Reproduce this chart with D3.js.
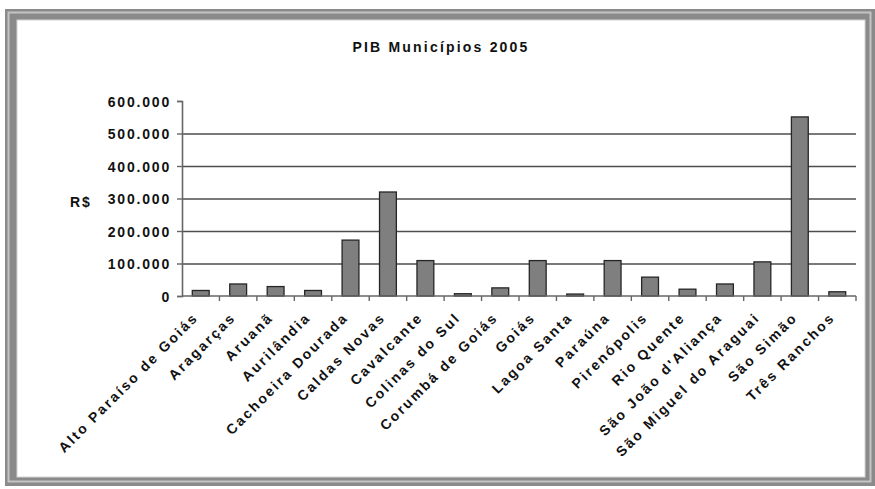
<!DOCTYPE html>
<html>
<head>
<meta charset="utf-8">
<script src="https://cdn.jsdelivr.net/npm/d3@7"></script>
<style>
  html, body { margin: 0; padding: 0; background: #fff; }
  svg text { font-family: "Liberation Sans", Arial, sans-serif; font-weight: bold; fill: #111; }
</style>
</head>
<body>
<svg id="chart" width="875" height="489"></svg>
<script>
// PIB dos municípios, 2005 (R$ mil)
var municipios = ["Alto Paraíso de Goiás", "Aragarças", "Aruanã", "Aurilândia",
    "Cachoeira Dourada", "Caldas Novas", "Cavalcante", "Colinas do Sul",
    "Corumbá de Goiás", "Goiás", "Lagoa Santa", "Paraúna", "Pirenópolis",
    "Rio Quente", "São João d'Aliança", "São Miguel do Araguai", "São Simão",
    "Três Ranchos"];
var pib = [17000, 37000, 29000, 17000, 172000, 320000, 109000, 7000,
    25000, 109000, 6000, 109000, 58000, 21000, 37000, 105000, 551000, 13000];
var yTicks = [0, 100000, 200000, 300000, 400000, 500000, 600000];
var titulo = "PIB Municípios 2005";
var yTitulo = "R$";

var svg = d3.select("#chart");

var ptBR = d3.formatLocale({decimal: ",", thousands: ".", grouping: [3], currency: ["R$", ""]});
var fmt = ptBR.format(",.0f");

// moldura (frame)
svg.append("rect").attr("x", 5).attr("y", 9).attr("width", 870).attr("height", 477)
    .attr("fill", "#8a8a8a");
svg.append("rect").attr("x", 8.5).attr("y", 12.5).attr("width", 862).attr("height", 469)
    .attr("fill", "none").attr("stroke", "#c4c4c4").attr("stroke-width", 2);
svg.append("rect").attr("x", 17).attr("y", 20).attr("width", 848).attr("height", 457)
    .attr("fill", "#fff").attr("stroke", "#d4d4d4").attr("stroke-width", 1);

var plot = {left: 182, right: 856, top: 101, bottom: 296};

var x = d3.scaleBand()
    .domain(municipios)
    .range([plot.left, plot.right])
    .paddingInner(0.55)
    .paddingOuter(0.275);

var y = d3.scaleLinear()
    .domain([0, 600000])
    .range([plot.bottom, plot.top]);

// title
svg.append("text")
    .attr("x", 441).attr("y", 52)
    .attr("text-anchor", "middle")
    .style("font-size", "14px")
    .style("letter-spacing", "2.2px")
    .text(titulo);

// axis title, left of the tick labels
svg.append("text")
    .attr("x", 70).attr("y", 207)
    .style("font-size", "14px")
    .style("letter-spacing", "2px")
    .text(yTitulo);

// gridlines
var grid = svg.append("g")
    .attr("transform", "translate(" + plot.left + ",0)")
    .call(d3.axisLeft(y).tickValues(yTicks.slice(1, -1)).tickSize(-(plot.right - plot.left)).tickFormat(""));
grid.select(".domain").remove();
grid.selectAll("line").attr("stroke", "#4d4d4d").attr("stroke-width", 1.7);

// y axis
var gY = svg.append("g")
    .attr("transform", "translate(" + plot.left + ",0)")
    .call(d3.axisLeft(y).tickValues(yTicks).tickSize(5).tickPadding(6).tickFormat(fmt));
gY.select(".domain").attr("stroke", "#666").attr("stroke-width", 1.6);
gY.selectAll("line").attr("stroke", "#666").attr("stroke-width", 1.4);
gY.selectAll("text")
    .style("font-size", "14px")
    .style("letter-spacing", "1.8px")
    .attr("dy", "0.36em");

// bars
svg.append("g").selectAll("rect")
    .data(pib)
    .enter().append("rect")
    .attr("x", function (d, i) { return x(municipios[i]); })
    .attr("y", function (d) { return y(d); })
    .attr("width", x.bandwidth())
    .attr("height", function (d) { return y(0) - y(d); })
    .attr("fill", "#7f7f7f")
    .attr("stroke", "#262626")
    .attr("stroke-width", 1.3);

// x axis line + boundary ticks
var step = x.step();
var bounds = d3.range(municipios.length + 1).map(function (i) { return plot.left + i * step; });
var xAxisG = svg.append("g");
xAxisG.append("line")
    .attr("x1", plot.left).attr("x2", plot.right)
    .attr("y1", y(0)).attr("y2", y(0))
    .attr("stroke", "#666").attr("stroke-width", 1.6);
xAxisG.selectAll("line.tk")
    .data(bounds.slice(1))
    .enter().append("line")
    .attr("class", "tk")
    .attr("x1", function (d) { return d; }).attr("x2", function (d) { return d; })
    .attr("y1", y(0)).attr("y2", y(0) + 5)
    .attr("stroke", "#666").attr("stroke-width", 1.4);

// x labels
var gX = svg.append("g")
    .attr("transform", "translate(0," + (y(0) + 8) + ")")
    .call(d3.axisBottom(x).tickSize(0).tickPadding(0));
gX.select(".domain").remove();
gX.selectAll("text")
    .style("font-size", "14px")
    .style("letter-spacing", "2.2px")
    .attr("text-anchor", "end")
    .attr("dy", "0.35em")
    .attr("transform", "translate(-5,11) rotate(-45)");
</script>
</body>
</html>
